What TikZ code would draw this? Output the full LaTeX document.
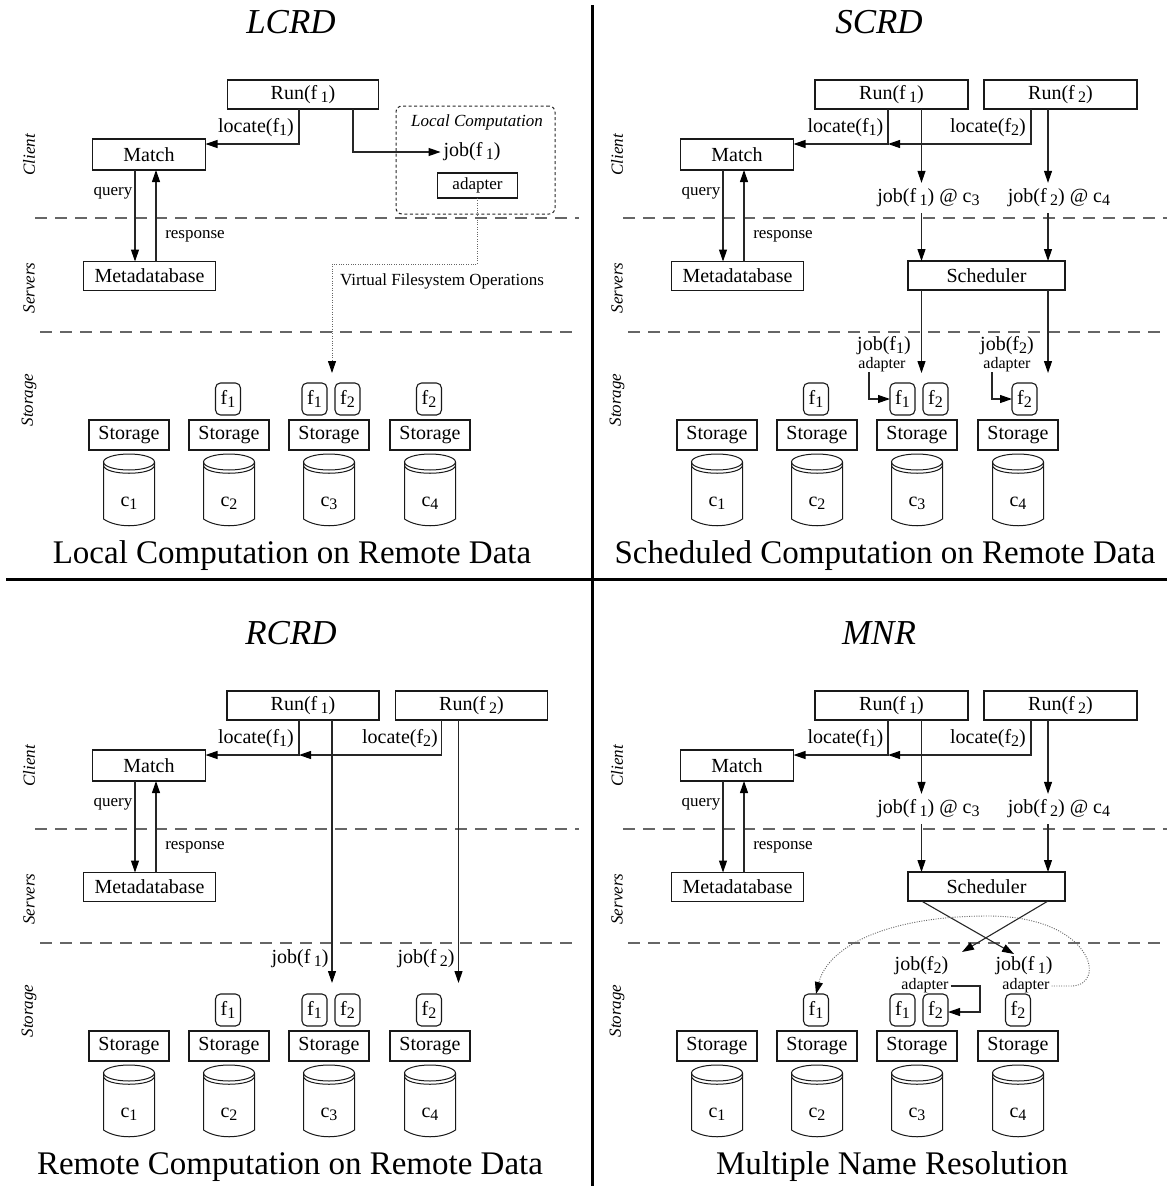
\documentclass[tikz,border=0pt]{standalone}
\usepackage{fontspec}
\usepackage{graphicx}
\setmainfont{Liberation Serif}
\usetikzlibrary{arrows.meta}
\newcommand{\lo}[1]{\raisebox{-0.32ex}{\scalebox{0.8}{#1}}}
\newcommand{\fsz}[1]{\fontsize{#1}{#1}\selectfont}

\tikzset{
 every node/.style={inner sep=0pt, outer sep=0pt},
 bx/.style={draw=black!90, line width=1.1pt, minimum height=29pt, font=\fsz{20}},
 fbx/.style={draw=black!90, line width=1.1pt, rounded corners=5pt, minimum width=25pt, minimum height=32pt, font=\fsz{20}},
 cyl/.style={draw=black!90, line width=1pt},
 lane/.style={rotate=90, font=\fsz{17}\itshape},
 ttl/.style={font=\fsz{35}\itshape},
 captxt/.style={font=\fsz{33}},
 lbl/.style={font=\fsz{20}},
 sml/.style={font=\fsz{17}},
 tiny/.style={font=\fsz{16}},
 conn/.style={draw=black!85, line width=1.1pt},
 arr/.style={conn, -{Triangle[length=12pt,width=8pt,color=black]}},
 dotp/.style={draw=black!60, line width=0.9pt, dash pattern=on 1pt off 1.4pt, -{Triangle[length=12pt,width=8pt,color=black]}},
 lanesep/.style={draw=black!60, line width=1.1pt, dash pattern=on 12pt off 8pt},
 divider/.style={draw=black, line width=3pt},
 lcbox/.style={draw=black!85, line width=1pt, dash pattern=on 3pt off 2.5pt, rounded corners=6pt},
}

\newcommand{\cylinder}[3]{%
 \draw[cyl] (#2,462) ellipse [x radius=25.5, y radius=8];
 \draw[cyl] (#2-25.5,465) .. controls (#2-25.5,476) and (#2+25.5,476) .. (#2+25.5,465);
 \draw[cyl] (#2-25.5,462) -- (#2-25.5,519) .. controls (#2-12,528) and (#2+12,528) .. (#2+25.5,519) -- (#2+25.5,462);
 \node[lbl] (#1) at (#2,503) {c\lo{#3}};
}

\newcommand{\panelbase}[4]{%
 \node[ttl] (title) at (291,22) {#1};
 \node[lane] (lclient) at (29,155) {Client};
 \node[lane] (lserv) at (29,288) {Servers};
 \node[lane] (lstor) at (29,400) {Storage};
 \draw[lanesep] (35,218) -- (579,218);
 \draw[lanesep] (40,332) -- (579,332);
 \node[bx, minimum width=113pt, minimum height=31pt] (match) at (149,154.5) {Match};
 \node[bx, minimum width=132pt] (meta) at (149.5,276) {Metadatabase};
 \draw[arr] (match.south -| 135,0) -- (meta.north -| 135,0);
 \draw[arr] (meta.north -| 156,0) -- (match.south -| 156,0);
 \node[sml] (query) at (113,193) {query};
 \node[sml] (resp) at (195,236) {response};
 \foreach \i/\x in {1/129,2/229,3/329,4/430} {
   \node[bx, minimum width=80pt, minimum height=30pt] (stor\i) at (\x,435) {Storage};
   \cylinder{c\i}{\x}{\i}
 }
 \node[fbx] (f12) at (228,399) {f\lo{1}};
 \node[fbx] (f13) at (314.5,399) {f\lo{1}};
 \node[fbx] (f23) at (347.5,399) {f\lo{2}};
 \node[fbx] (f24) at (#4,399) {f\lo{2}};
 \node[captxt] (caption) at (#3,556) {#2};
}

\newcommand{\schedtop}{%
 \node[bx, minimum width=153pt] (run1) at (303.5,94.5) {Run(f\,\lo{1})};
 \node[bx, minimum width=153pt] (run2) at (472.5,94.5) {Run(f\,\lo{2})};
 \node[lbl] (loc1) at (257.5,128) {locate(f\lo{1})};
 \node[lbl] (loc2) at (400,128) {locate(f\lo{2})};
 \coordinate (m1) at (300,144);
 \draw[arr] (run1.south -| 300,0) |- (match.east |- 0,144);
 \draw[arr] (run2.south -| 443,0) |- (m1);
 \node[lbl, inner ysep=6pt] (j1) at (340.5,198) {job(f\,\lo{1}) @ c\lo{3}};
 \node[lbl, inner ysep=6pt] (j2) at (471,198) {job(f\,\lo{2}) @ c\lo{4}};
 \node[bx, minimum width=157pt] (sched) at (398.5,275.5) {Scheduler};
 \draw[arr] (run1.south -| 333.5,0) -- (j1.north -| 333.5,0);
 \draw[arr] (run2.south -| 460,0) -- (j2.north -| 460,0);
 \draw[arr] (j1.south -| 333.5,0) -- (sched.north -| 333.5,0);
 \draw[arr] (j2.south -| 460,0) -- (sched.north -| 460,0);
}

\begin{document}
\begin{tikzpicture}[x=1pt,y=-1pt]
\useasboundingbox (0,0) rectangle (1167,1186);
\draw[divider] (592,5) -- (592,1186);
\draw[divider] (6,579) -- (1167,579);

% ---------- LCRD ----------
\begin{scope}[name prefix=A-]
 \panelbase{LCRD}{Local Computation on Remote Data}{292}{429}
 \node[bx, minimum width=151pt] (run1) at (303,94.5) {Run(f\,\lo{1})};
 \node[lbl] (loc1) at (256,128) {locate(f\lo{1})};
 \node[lbl, inner xsep=3pt] (job) at (472,152) {job(f\,\lo{1})};
 \draw[arr] (run1.south -| 299,0) |- (match.east |- 0,144);
 \draw[arr] (run1.south -| 353,0) |- (job.west);
 \node[lcbox, minimum width=159pt, minimum height=108pt] (lcb) at (475.5,160) {};
 \node[font=\fsz{17}\itshape] (lct) at (477,122) {Local Computation};
 \node[bx, minimum width=80pt, minimum height=25pt, font=\fsz{17}] (adp) at (477.5,185.5) {adapter};
 \coordinate (vfsend) at (332,373);
 \draw[dotp] (adp.south) |- (332,264) -- (vfsend);
 \node[sml] (vfs) at (442,281) {Virtual Filesystem Operations};
\end{scope}

% ---------- SCRD ----------
\begin{scope}[shift={(588,0)}, name prefix=B-]
 \panelbase{SCRD}{Scheduled Computation on Remote Data}{297}{436.5}
 \schedtop
 \coordinate (t1) at (333.5,373);
 \coordinate (t2) at (460,373);
 \draw[arr] (sched.south -| 333.5,0) -- (t1);
 \draw[arr] (sched.south -| 460,0) -- (t2);
 \node[lbl] (ja1) at (296,346) {job(f\lo{1})};
 \node[tiny] (ad1) at (294,365) {adapter};
 \node[lbl] (ja2) at (419,346) {job(f\lo{2})};
 \node[tiny] (ad2) at (419,365) {adapter};
 \draw[arr] (ad1.south -| 281,0) |- (f13.west);
 \draw[arr] (ad2.south -| 404,0) |- (f24.west);
\end{scope}

% ---------- RCRD ----------
\begin{scope}[shift={(0,611)}, name prefix=C-]
 \panelbase{RCRD}{Remote Computation on Remote Data}{290}{429}
 \node[bx, minimum width=152pt] (run1) at (303,94.5) {Run(f\,\lo{1})};
 \node[bx, minimum width=152pt] (run2) at (471.5,94.5) {Run(f\,\lo{2})};
 \node[lbl] (loc1) at (256,128) {locate(f\lo{1})};
 \node[lbl] (loc2) at (400,128) {locate(f\lo{2})};
 \coordinate (m1) at (299,144);
 \draw[arr] (run1.south -| 299,0) |- (match.east |- 0,144);
 \draw[arr] (run2.south -| 441.5,0) |- (m1);
 \coordinate (t1) at (332,372);
 \coordinate (t2) at (458.5,372);
 \draw[arr] (run1.south -| 332,0) -- (t1);
 \draw[arr] (run2.south -| 458.5,0) -- (t2);
 \node[lbl] (ja1) at (300,348) {job(f\,\lo{1})};
 \node[lbl] (ja2) at (426,348) {job(f\,\lo{2})};
\end{scope}

% ---------- MNR ----------
\begin{scope}[shift={(588,611)}, name prefix=D-]
 \panelbase{MNR}{Multiple Name Resolution}{304}{430}
 \schedtop
 \node[lbl] (ja2) at (333.5,355) {job(f\lo{2})};
 \node[tiny, inner xsep=2pt] (ad2) at (337,375) {adapter};
 \node[lbl] (ja1) at (436,355) {job(f\,\lo{1})};
 \node[tiny, inner xsep=2pt] (ad1) at (438,375) {adapter};
 \coordinate (x1) at (426,343);
 \coordinate (x2) at (374,341);
 \draw[arr] (sched.south -| 333.5,0) -- (x1);
 \draw[arr] (sched.south -| 460,0) -- (x2);
 \draw[arr] (ad2.east) -- (392,375) -- (392,401) -- (f23.east |- 0,401);
 \draw[dotp] (ad1.east) -- (483,375) .. controls (520,375) and (505,305) .. (400,305) .. controls (300,305) and (240,335) .. (f12.north);
\end{scope}
\end{tikzpicture}
\end{document}
